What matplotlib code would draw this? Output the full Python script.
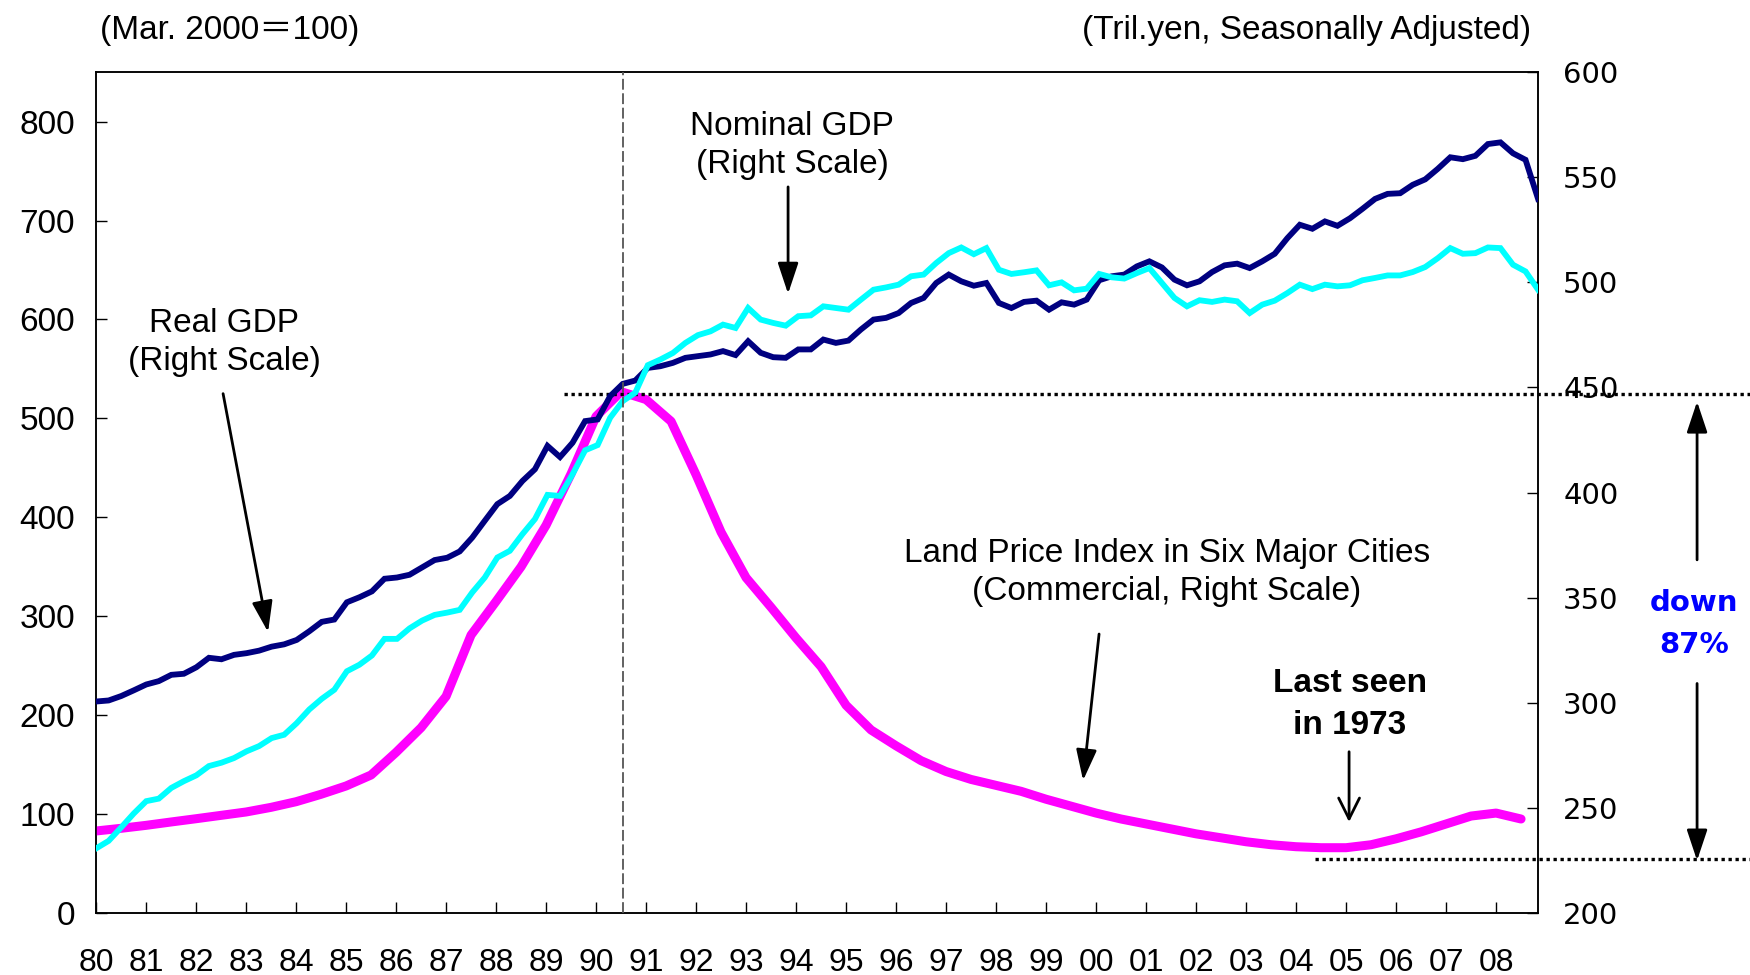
import matplotlib
matplotlib.use("Agg")
import matplotlib.pyplot as plt
import matplotlib.transforms as mtransforms
import numpy as np

# ============================================================
# Data
# ============================================================
year_labels = ["80", "81", "82", "83", "84", "85", "86", "87", "88", "89",
               "90", "91", "92", "93", "94", "95", "96", "97", "98", "99",
               "00", "01", "02", "03", "04", "05", "06", "07", "08"]

# quarterly, 1980Q1 - 2008Q4, trillion yen (right scale)
real_gdp = [
    300.6, 301.1, 303.2, 305.9,
    308.7, 310.3, 313.3, 313.8,
    316.9, 321.4, 320.7, 322.8,
    323.6, 324.8, 326.7, 327.8,
    329.9, 334.0, 338.5, 339.6,
    347.8, 350.2, 353.0, 359.0,
    359.6, 360.9, 364.4, 367.9,
    369.0, 372.0, 378.6, 386.6,
    394.5, 398.4, 405.5, 411.1,
    422.2, 416.9, 423.7, 434.0,
    434.8, 445.9, 451.7, 453.3,
    459.3, 460.1, 461.7, 464.1,
    464.9, 465.7, 467.3, 465.4,
    472.0, 466.5, 464.4, 464.1,
    468.1, 468.1, 472.8, 471.2,
    472.3, 477.6, 482.3, 483.1,
    485.4, 490.2, 492.6, 499.7,
    503.7, 500.5, 498.4, 499.7,
    490.2, 487.8, 490.7, 491.3,
    487.0, 490.5, 489.4, 491.8,
    501.0, 502.9, 503.7, 507.6,
    510.0, 507.1, 501.3, 498.6,
    500.5, 504.9, 508.1, 508.9,
    506.8, 510.0, 513.6, 521.0,
    527.4, 525.5, 529.0, 526.9,
    530.5, 535.0, 539.7, 542.1,
    542.4, 546.4, 549.0, 554.0,
    559.5, 558.6, 560.2, 565.8,
    566.6, 561.4, 558.3, 539.7,
]

nominal_gdp = [
    230.7, 234.3, 240.7, 247.3,
    253.2, 254.4, 259.5, 262.7,
    265.5, 269.9, 271.5, 273.7,
    276.9, 279.4, 283.2, 284.8,
    290.3, 296.8, 301.9, 306.2,
    315.0, 318.1, 322.5, 330.4,
    330.4, 335.4, 339.1, 341.8,
    342.9, 344.2, 352.5, 359.6,
    369.1, 372.3, 380.2, 387.4,
    398.9, 398.4, 408.7, 420.1,
    422.6, 435.6, 443.5, 447.5,
    460.6, 463.3, 466.4, 471.2,
    474.9, 476.7, 479.9, 478.3,
    487.8, 482.3, 480.7, 479.4,
    483.9, 484.3, 488.6, 487.8,
    487.0, 491.8, 496.5, 497.6,
    498.9, 502.9, 503.7, 509.2,
    513.9, 516.6, 513.4, 516.3,
    506.0, 504.0, 504.8, 505.7,
    498.6, 500.0, 496.2, 497.0,
    504.0, 502.4, 501.8, 504.4,
    506.8, 499.7, 492.6, 488.6,
    491.5, 490.7, 491.8, 491.0,
    485.4, 489.4, 491.3, 494.9,
    498.9, 496.8, 498.9, 498.1,
    498.6, 501.0, 502.1, 503.3,
    503.3, 504.9, 507.3, 511.5,
    516.3, 513.6, 513.9, 516.6,
    516.3, 508.4, 505.2, 496.5,
]

# semiannual, 1980 - 2008 (Mar. 2000 = 100, left scale)
land_price = [
    82.9, 85.6, 88.6, 92.0, 95.3, 98.7, 102.1, 106.8,
    112.5, 120.0, 128.4, 139.5, 162.4, 187.3, 219.0, 281.0,
    315.0, 350.0, 392.0, 444.0, 502.0, 527.0, 519.0, 497.0,
    443.0, 385.0, 339.0, 309.0, 278.0, 249.0, 210.0, 185.0,
    169.0, 154.0, 143.0, 135.0, 129.0, 123.0, 115.0, 108.0,
    101.0, 95.0, 90.0, 85.0, 80.0, 76.0, 72.0, 69.0,
    67.0, 66.0, 66.0, 69.0, 75.0, 82.0, 90.0, 98.0,
    101.0, 95.0,
]

# ============================================================
# Layout
# ============================================================
X_MIN, X_MAX = 1980.0, 2008.84
BUBBLE_PEAK = 1990.53      # dashed vertical marker
LOW_GUIDE = 55             # lower dotted guide (left scale)

plt.rcParams["font.family"] = ["Liberation Sans", "DejaVu Sans"]

fig = plt.figure(figsize=(17.5, 9.75), dpi=100)
ax = fig.add_axes([0.0549, 0.0636, 0.824, 0.8624])
ax2 = ax.twinx()

q_x = np.linspace(X_MIN, X_MAX, len(real_gdp))
land_x = X_MIN + 0.5 * np.arange(len(land_price))

ax.plot(land_x, land_price, color="#FF00FF", lw=6.5, solid_capstyle="round",
        solid_joinstyle="round", zorder=3)
ax2.plot(q_x, real_gdp, color="#000080", lw=4.2, solid_joinstyle="miter", zorder=3)
ax2.plot(q_x, nominal_gdp, color="#00FFFF", lw=4.2, solid_joinstyle="miter", zorder=4)
ax2.axvline(BUBBLE_PEAK, color="#555555", lw=1.3, ls=(0, (6, 2)), zorder=5)

ax.set_xlim(X_MIN, X_MAX)
ax.set_ylim(0, 850)
ax2.set_ylim(200, 600)

ax.set_xticks(np.arange(1980, 2009))
ax.set_xticklabels(year_labels)
ax.set_yticks(np.arange(0, 801, 100))
ax2.set_yticks(np.arange(200, 601, 50))

ax.tick_params(axis="x", direction="in", length=8, width=1, pad=25,
               labelsize=23)
ax.tick_params(axis="y", direction="in", length=8, width=1, pad=15,
               labelsize=24)
ax2.tick_params(axis="y", direction="in", length=8, width=1, pad=18,
                labelsize=21)
for lab in ax2.get_yticklabels():
    lab.set_family("DejaVu Sans")

for a in (ax, ax2):
    for s in a.spines.values():
        s.set_linewidth(1.1)
        s.set_color("black")

# ============================================================
# Dotted guides from the peak to the trough
# ============================================================
trans = mtransforms.blended_transform_factory(ax.transAxes, ax.transData)
peak_level = max(land_price) - 2
ax.plot([0.3245, 1.2], [peak_level, peak_level], transform=trans,
        color="black", lw=2.4, ls=(0, (1, 1.1)), clip_on=False, zorder=6)
ax.plot([0.8453, 1.2], [LOW_GUIDE, LOW_GUIDE], transform=trans,
        color="black", lw=2.4, ls=(0, (1, 1.1)), clip_on=False, zorder=6)

# ============================================================
# Annotations
# ============================================================
fs = 24
filled = dict(arrowstyle="-|>,head_length=0.9,head_width=0.3", color="black",
              lw=2.0, mutation_scale=21, shrinkA=0, shrinkB=0)

ax.text(1982.56, 577, "Real GDP\n(Right Scale)", ha="center", va="center",
        fontsize=fs, linespacing=1.3)
ax.annotate("", xy=(1983.44, 284), xytext=(1982.54, 525), arrowprops=filled)

ax.text(1993.92, 776, "Nominal GDP\n(Right Scale)", ha="center", va="center",
        fontsize=fs, linespacing=1.3)
ax.annotate("", xy=(1993.84, 626), xytext=(1993.84, 734), arrowprops=filled)

ax.text(2001.42, 344, "Land Price Index in Six Major Cities\n(Commercial, Right Scale)",
        ha="center", va="center", fontsize=fs, linespacing=1.3)
ax.annotate("", xy=(1999.74, 134), xytext=(2000.06, 282), arrowprops=filled)

ax.text(2005.08, 211, "Last seen\nin 1973", ha="center", va="center",
        fontsize=fs, fontweight="bold", linespacing=1.45)
ax.annotate("", xy=(2005.06, 92), xytext=(2005.06, 163),
            arrowprops=dict(arrowstyle="->,head_length=0.5,head_width=0.25",
                            color="black", lw=2.0, mutation_scale=30,
                            shrinkA=0, shrinkB=0))

ax.annotate("", xy=(2012.02, 517), xytext=(2012.02, 357), arrowprops=filled,
            annotation_clip=False)
ax.annotate("", xy=(2012.02, 53), xytext=(2012.02, 232), arrowprops=filled,
            annotation_clip=False)
ax.text(2011.96, 292, "down\n87%", ha="center", va="center", fontsize=21,
        fontweight="bold", color="#0000FF", family="DejaVu Sans",
        linespacing=1.65, clip_on=False)

fig.text(100 / 1750, 1 - 30 / 975, "(Mar. 2000＝100)", ha="left", va="center",
         fontsize=fs, family=["Liberation Sans", "Noto Sans CJK JP"])
fig.text(1531 / 1750, 1 - 30 / 975, "(Tril.yen, Seasonally Adjusted)",
         ha="right", va="center", fontsize=fs)

fig.savefig("out.png", dpi=100)
plt.close(fig)
